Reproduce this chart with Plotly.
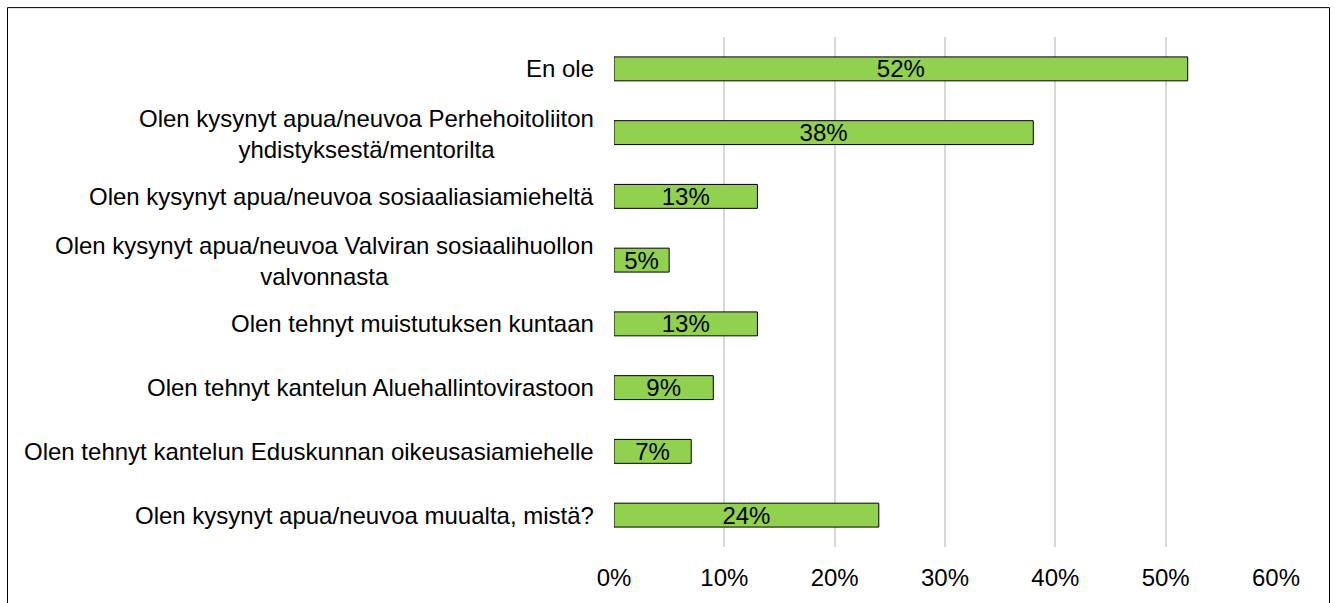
import plotly.graph_objects as go

categories = [
    "En ole",
    "Olen kysynyt apua/neuvoa Perhehoitoliiton<br>yhdistyksestä/mentorilta",
    "Olen kysynyt apua/neuvoa sosiaaliasiamieheltä",
    "Olen kysynyt apua/neuvoa Valviran sosiaalihuollon<br>valvonnasta",
    "Olen tehnyt muistutuksen kuntaan",
    "Olen tehnyt kantelun Aluehallintovirastoon",
    "Olen tehnyt kantelun Eduskunnan oikeusasiamiehelle",
    "Olen kysynyt apua/neuvoa muualta, mistä?",
]
values = [0.52, 0.38, 0.13, 0.05, 0.13, 0.09, 0.07, 0.24]
value_labels = ["52%", "38%", "13%", "5%", "13%", "9%", "7%", "24%"]
tick_vals = [0, 0.1, 0.2, 0.3, 0.4, 0.5, 0.6]
tick_text = ["0%", "10%", "20%", "30%", "40%", "50%", "60%"]

W, H = 1335, 603
L, R, T, B = 614, 59, 37, 54
pw, ph = W - L - R, H - T - B

FONT = "Liberation Sans, Arial, sans-serif"
FS = 24

fig = go.Figure()
fig.add_trace(go.Bar(
    y=categories,
    x=values,
    orientation="h",
    width=0.375,
    marker=dict(color="#92D050", line=dict(color="#000000", width=1)),
    text=value_labels,
    textposition="inside",
    insidetextanchor="middle",
    constraintext="none",
    textangle=0,
    cliponaxis=False,
    textfont=dict(family=FONT, size=FS, color="#000000"),
    hoverinfo="skip",
))

for cat in categories:
    fig.add_annotation(
        x=0, xref="paper", y=cat, yref="y",
        text=cat, showarrow=False, xanchor="right", yanchor="middle",
        align="center", xshift=-18,
        yshift=-1 if "<br>" in cat else 0,
        font=dict(family=FONT, size=FS, color="#000000"),
    )

def px_to_paper_x(px):
    return (px - L) / pw

def px_to_paper_y(py):
    return (H - B - py) / ph

fig.add_shape(
    type="rect", xref="paper", yref="paper",
    x0=px_to_paper_x(7.5), x1=px_to_paper_x(1329.5),
    y0=px_to_paper_y(610), y1=px_to_paper_y(7.5),
    line=dict(color="#000000", width=1), fillcolor="rgba(0,0,0,0)",
    layer="above",
)

fig.update_layout(
    width=W, height=H,
    margin=dict(l=L, r=R, t=T, b=B, pad=0),
    paper_bgcolor="#FFFFFF",
    plot_bgcolor="#FFFFFF",
    showlegend=False,
    bargap=0.625,
    font=dict(family=FONT, size=FS, color="#000000"),
    uniformtext=dict(mode=False),
)
fig.update_xaxes(
    range=[0, 0.6],
    tickvals=tick_vals,
    ticktext=tick_text,
    showgrid=True, gridcolor="#D9D9D9", gridwidth=1.5,
    zeroline=False, showline=False,
    ticks="", ticklabelstandoff=14,
    tickfont=dict(family=FONT, size=FS, color="#000000"),
    fixedrange=True,
)
fig.update_yaxes(
    autorange="reversed",
    showticklabels=False,
    showgrid=False, zeroline=False, showline=False,
    ticks="",
    fixedrange=True,
)

fig.write_html(
    "out.html",
    config={"displayModeBar": False},
    post_script="document.body.style.margin='0';",
)
